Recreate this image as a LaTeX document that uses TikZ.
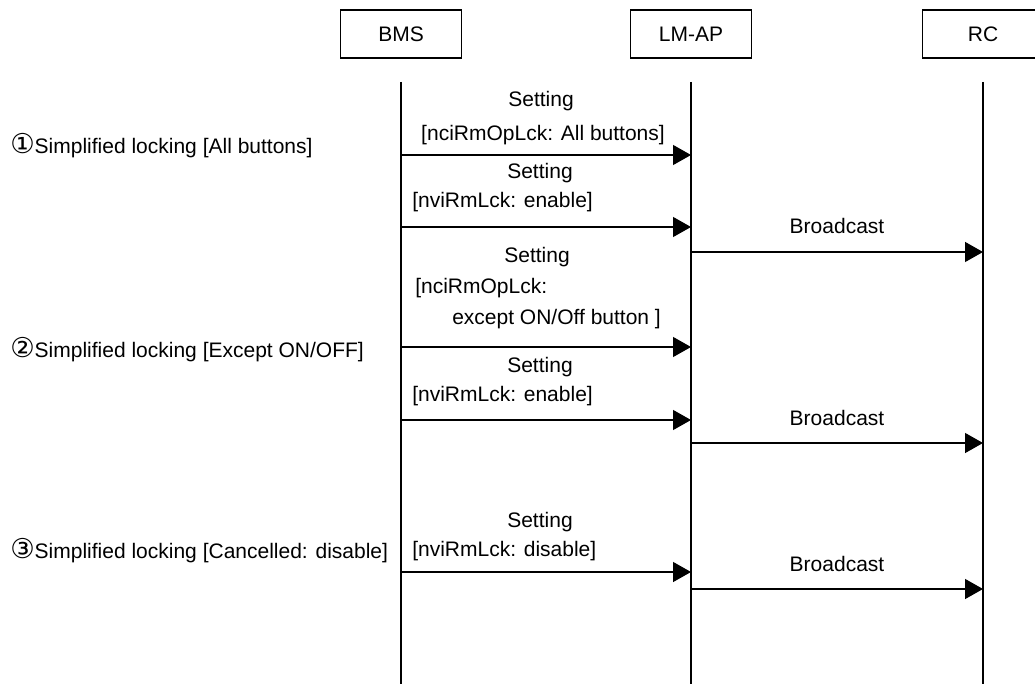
\documentclass[tikz,border=0pt]{standalone}
\usepackage{fontspec}
\setmainfont{Liberation Sans}
\newfontfamily\circfont[Scale=1.3]{DejaVu Sans}
\usetikzlibrary{arrows.meta}

\tikzset{
  actor/.style={draw, line width=0.8pt, minimum width=90.75pt, minimum height=36pt, inner sep=0pt},
  life/.style={line width=1pt},
  msg/.style={line width=1pt, -{Triangle[length=13.5pt,width=15pt]}},
  lbl/.style={inner sep=0pt, anchor=base},
  note/.style={inner sep=0pt, anchor=base west}
}

\begin{document}
\begin{tikzpicture}[x=0.75pt, y=-0.75pt, font=\fontsize{15.75}{19}\selectfont]
    \useasboundingbox (0,0) rectangle (1035,684);
    \clip (0,0) rectangle (1035,684);
    % actors
    \node[actor] (bms) at (401,34) {BMS};
    \node[actor] (lm) at (691,34) {LM-AP};
    \node[actor] (rc) at (983,34) {RC};
    % lifelines
    \coordinate (bmstop) at (401,82);
    \coordinate (bmsend) at (401,684);
    \coordinate (lmtop) at (691,82);
    \coordinate (lmend) at (691,684);
    \coordinate (rctop) at (983,82);
    \coordinate (rcend) at (983,684);
    \draw[life] (bmstop) -- (bmsend);
    \draw[life] (lmtop) -- (lmend);
    \draw[life] (rctop) -- (rcend);
    % first case
    \node[note] (caseA) at (10,154) {{\circfont ①}Simplified locking [All buttons]};
    \node[lbl] (setA) at (541,107) {Setting};
    \node[lbl] (parA) at (543,141) {[nciRmOpLck: All buttons]};
    \coordinate (a1) at (401,155);
    \coordinate (a2) at (691,155);
    \draw[msg] (a1) -- (a2);
    \node[lbl] (setB) at (540,179) {Setting};
    \node[note] (parB) at (412,208) {[nviRmLck: enable]};
    \coordinate (b1) at (401,227);
    \coordinate (b2) at (691,227);
    \draw[msg] (b1) -- (b2);
    \node[lbl] (castA) at (837,234) {Broadcast};
    \coordinate (c1) at (691,252);
    \coordinate (c2) at (983,252);
    \draw[msg] (c1) -- (c2);
    % second case
    \node[note] (caseB) at (10,357) {{\circfont ②}Simplified locking [Except ON/OFF]};
    \node[lbl] (setC) at (537,263) {Setting};
    \node[note] (parC) at (415,294) {[nciRmOpLck:};
    \node[note] (parD) at (452,325) {except ON/Off button ]};
    \coordinate (d1) at (401,347);
    \coordinate (d2) at (691,347);
    \draw[msg] (d1) -- (d2);
    \node[lbl] (setD) at (540,372) {Setting};
    \node[note] (parE) at (412,401) {[nviRmLck: enable]};
    \coordinate (e1) at (401,420);
    \coordinate (e2) at (691,420);
    \draw[msg] (e1) -- (e2);
    \node[lbl] (castB) at (837,425) {Broadcast};
    \coordinate (f1) at (691,443);
    \coordinate (f2) at (983,443);
    \draw[msg] (f1) -- (f2);
    % third case
    \node[note] (caseC) at (10,558) {{\circfont ③}Simplified locking [Cancelled: disable]};
    \node[lbl] (setE) at (540,527) {Setting};
    \node[note] (parF) at (412,556) {[nviRmLck: disable]};
    \coordinate (g1) at (401,572);
    \coordinate (g2) at (691,572);
    \draw[msg] (g1) -- (g2);
    \node[lbl] (castC) at (837,571) {Broadcast};
    \coordinate (h1) at (691,589);
    \coordinate (h2) at (983,589);
    \draw[msg] (h1) -- (h2);
\end{tikzpicture}
\end{document}
